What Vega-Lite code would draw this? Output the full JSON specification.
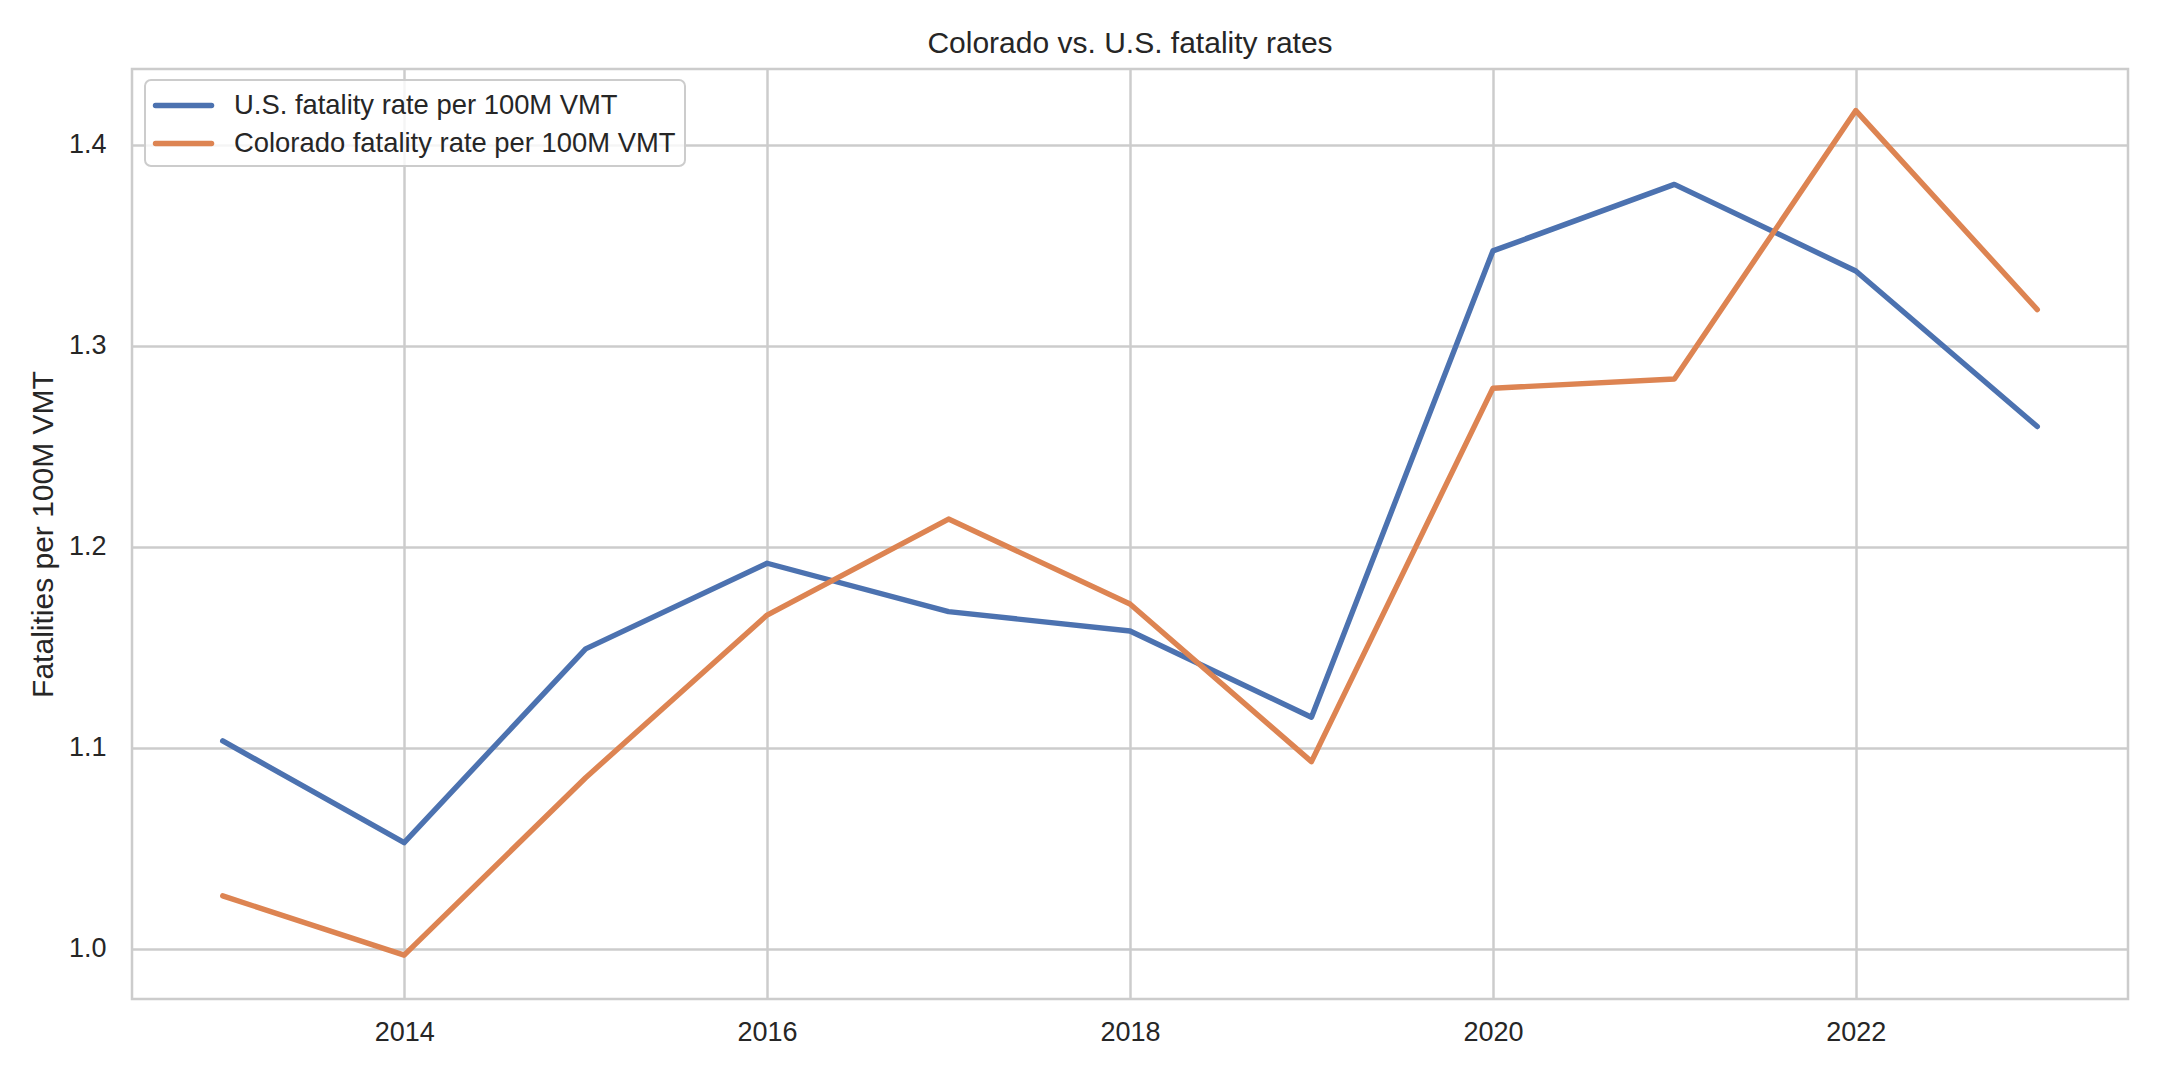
{
  "$schema": "https://vega.github.io/schema/vega-lite/v6.json",
  "description": "Colorado vs. U.S. fatality rates per 100M VMT",
  "width": 1996,
  "height": 930,
  "autosize": {"type": "none"},
  "padding": {"left": 132, "top": 69, "right": 32, "bottom": 81},
  "background": "white",
  "title": {
    "text": "Colorado vs. U.S. fatality rates",
    "anchor": "middle",
    "font": "Liberation Sans",
    "fontSize": 30,
    "fontWeight": "normal",
    "color": "#262626",
    "offset": 10
  },
  "data": {
    "values": [
      {"year": 2013, "series": "U.S. fatality rate per 100M VMT", "rate": 1.1035},
      {"year": 2014, "series": "U.S. fatality rate per 100M VMT", "rate": 1.0529},
      {"year": 2015, "series": "U.S. fatality rate per 100M VMT", "rate": 1.1493},
      {"year": 2016, "series": "U.S. fatality rate per 100M VMT", "rate": 1.1919},
      {"year": 2017, "series": "U.S. fatality rate per 100M VMT", "rate": 1.1678},
      {"year": 2018, "series": "U.S. fatality rate per 100M VMT", "rate": 1.1582},
      {"year": 2019, "series": "U.S. fatality rate per 100M VMT", "rate": 1.1153},
      {"year": 2020, "series": "U.S. fatality rate per 100M VMT", "rate": 1.3473},
      {"year": 2021, "series": "U.S. fatality rate per 100M VMT", "rate": 1.3804},
      {"year": 2022, "series": "U.S. fatality rate per 100M VMT", "rate": 1.3373},
      {"year": 2023, "series": "U.S. fatality rate per 100M VMT", "rate": 1.2599},
      {"year": 2013, "series": "Colorado fatality rate per 100M VMT", "rate": 1.0264},
      {"year": 2014, "series": "Colorado fatality rate per 100M VMT", "rate": 0.9969},
      {"year": 2015, "series": "Colorado fatality rate per 100M VMT", "rate": 1.0852},
      {"year": 2016, "series": "Colorado fatality rate per 100M VMT", "rate": 1.1661},
      {"year": 2017, "series": "Colorado fatality rate per 100M VMT", "rate": 1.2139},
      {"year": 2018, "series": "Colorado fatality rate per 100M VMT", "rate": 1.1716},
      {"year": 2019, "series": "Colorado fatality rate per 100M VMT", "rate": 1.0932},
      {"year": 2020, "series": "Colorado fatality rate per 100M VMT", "rate": 1.2790},
      {"year": 2021, "series": "Colorado fatality rate per 100M VMT", "rate": 1.2836},
      {"year": 2022, "series": "Colorado fatality rate per 100M VMT", "rate": 1.4171},
      {"year": 2023, "series": "Colorado fatality rate per 100M VMT", "rate": 1.3181}
    ]
  },
  "mark": {
    "type": "line",
    "strokeWidth": 5.4,
    "strokeJoin": "round",
    "strokeCap": "round"
  },
  "encoding": {
    "x": {
      "field": "year",
      "type": "quantitative",
      "scale": {"domain": [2012.5, 2023.5], "nice": false, "zero": false},
      "axis": {
        "title": null,
        "values": [2014, 2016, 2018, 2020, 2022],
        "format": "d",
        "labelPadding": 20
      }
    },
    "y": {
      "field": "rate",
      "type": "quantitative",
      "scale": {"domain": [0.9751, 1.4378], "nice": false, "zero": false},
      "axis": {
        "title": "Fatalities per 100M VMT",
        "values": [1.0, 1.1, 1.2, 1.3, 1.4],
        "format": ".1f",
        "labelPadding": 26,
        "titlePadding": 10
      }
    },
    "color": {
      "field": "series",
      "type": "nominal",
      "scale": {
        "domain": ["U.S. fatality rate per 100M VMT", "Colorado fatality rate per 100M VMT"],
        "range": ["#4c72b0", "#dd8452"]
      },
      "legend": {
        "title": null,
        "orient": "none",
        "legendX": 13,
        "legendY": 11,
        "fillColor": "rgba(255,255,255,0.8)",
        "strokeColor": "#cccccc",
        "cornerRadius": 6,
        "padding": 9,
        "symbolType": "M-1.11,0H3.04",
        "symbolSize": 729,
        "symbolStrokeWidth": 5.4,
        "labelOffset": 47,
        "rowPadding": 8,
        "labelFont": "Liberation Sans",
        "labelFontSize": 27.4,
        "labelColor": "#262626",
        "labelLimit": 0,
        "encode": {
          "legend": {"update": {"strokeWidth": {"value": 2}}},
          "symbols": {"update": {"strokeCap": {"value": "round"}}}
        }
      }
    }
  },
  "config": {
    "view": {"stroke": "#cccccc", "strokeWidth": 2.5},
    "axis": {
      "domain": false,
      "ticks": false,
      "tickSize": 0,
      "grid": true,
      "gridColor": "#cccccc",
      "gridWidth": 2.5,
      "labelFont": "Liberation Sans",
      "labelFontSize": 27,
      "labelColor": "#262626",
      "titleFont": "Liberation Sans",
      "titleFontSize": 30,
      "titleFontWeight": "normal",
      "titleColor": "#262626"
    }
  }
}
